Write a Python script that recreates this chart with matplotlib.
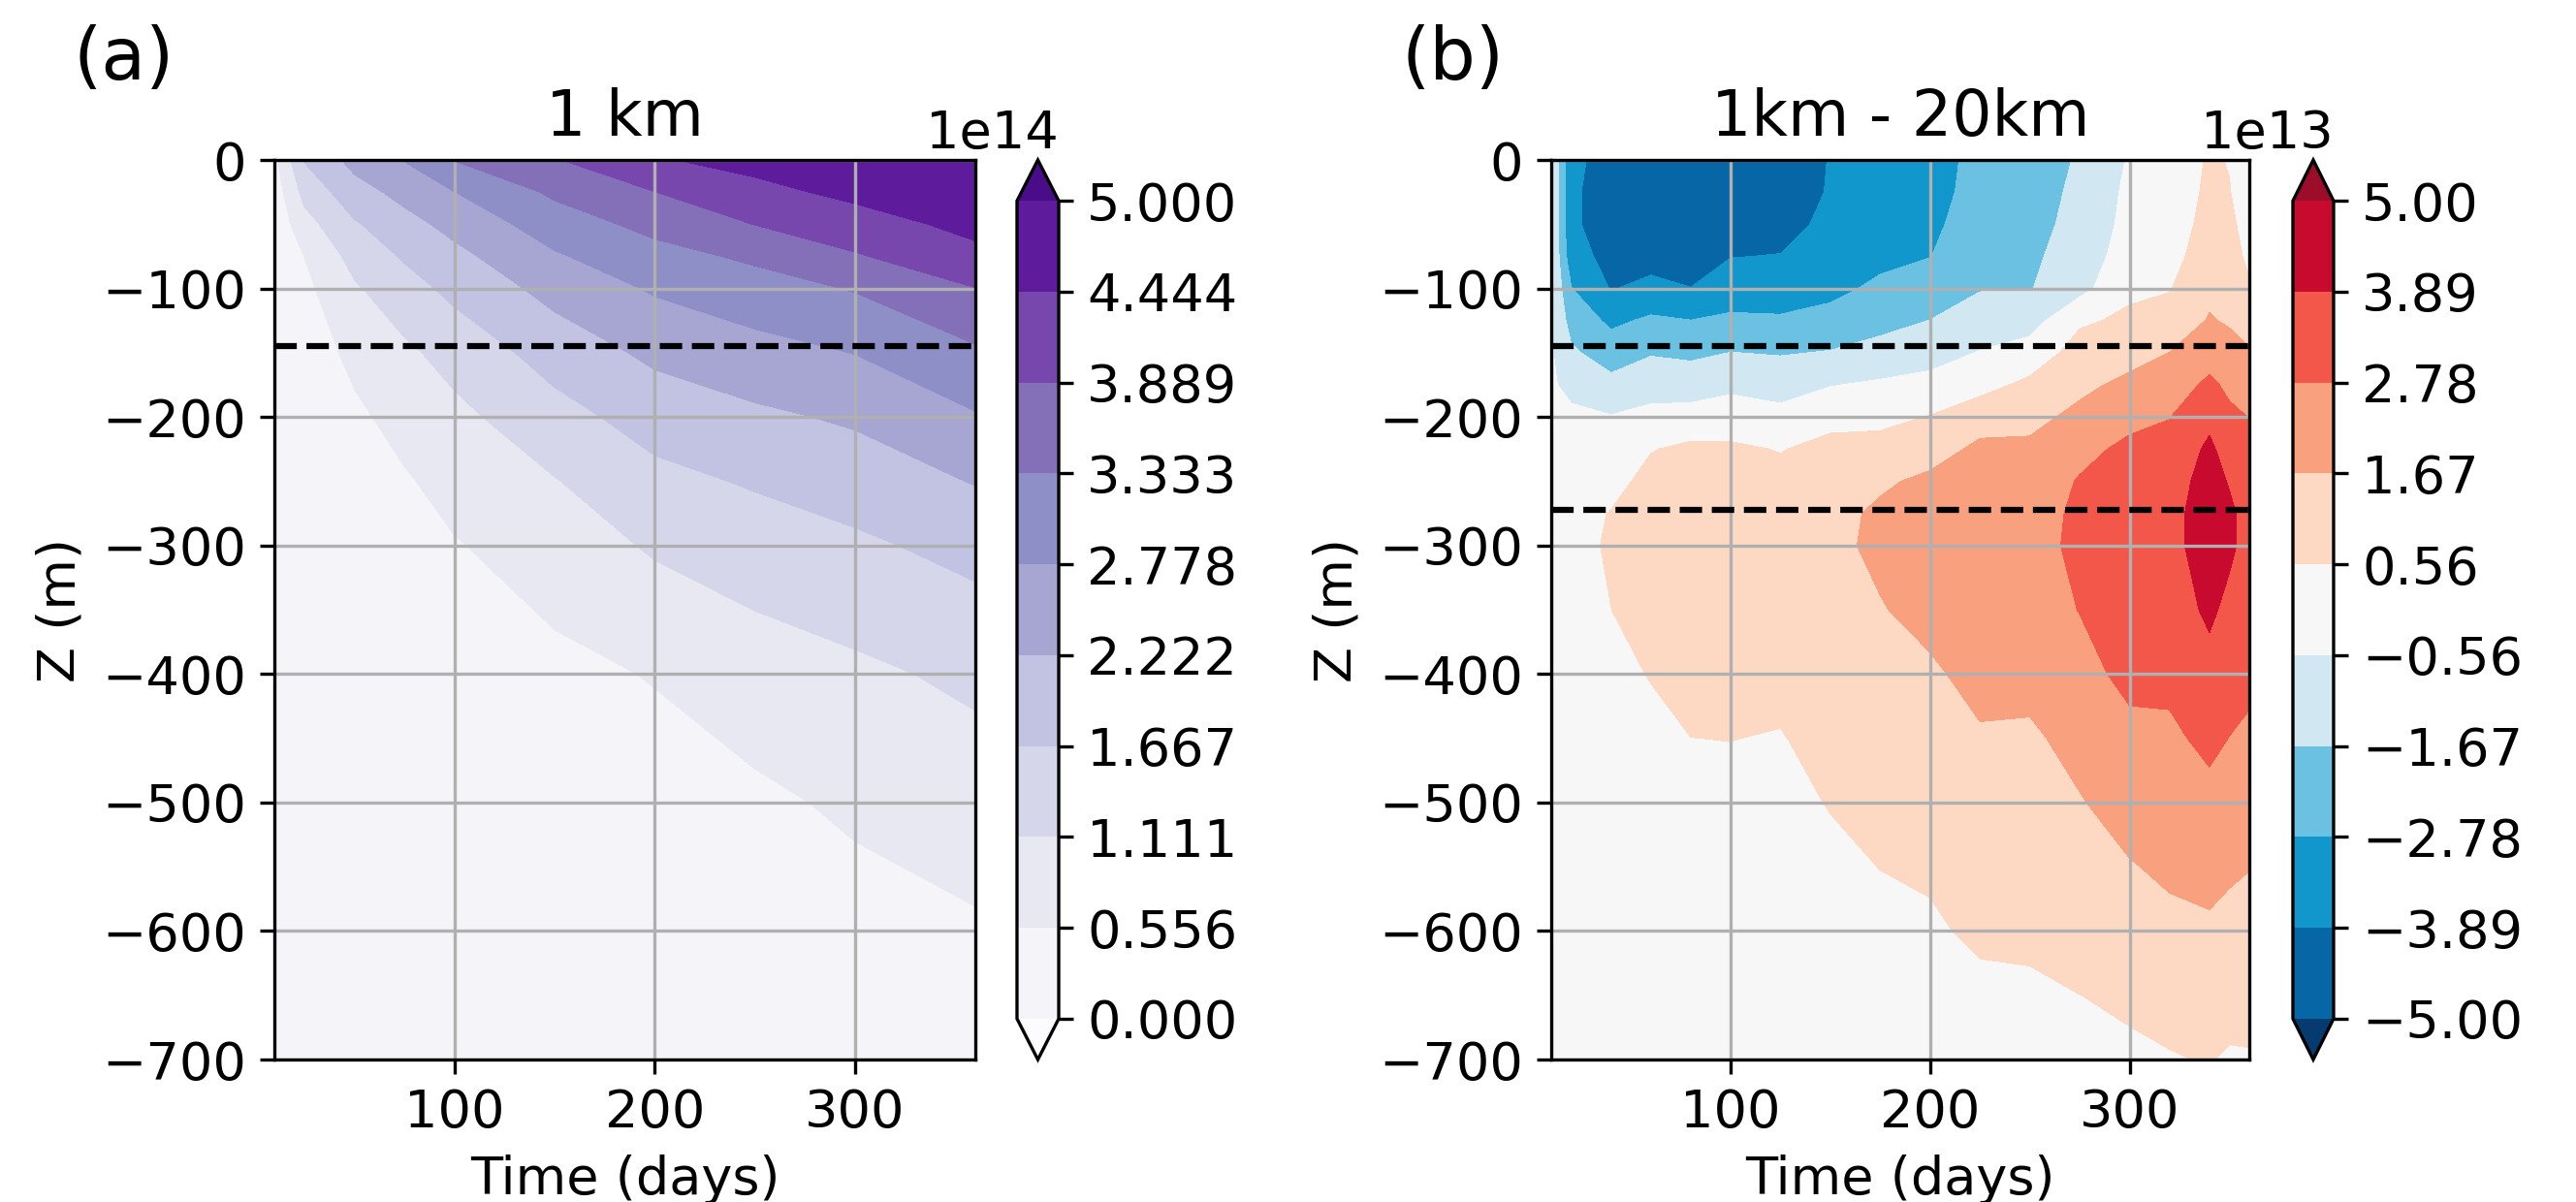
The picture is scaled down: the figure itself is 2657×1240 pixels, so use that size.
import numpy as np
import matplotlib
matplotlib.use("Agg")
import matplotlib.pyplot as plt

# ---- panel (a): 1 km run, values in units of 1e14 ----
days_a = [10, 25, 50, 75, 100, 150, 200, 250, 300, 360]
depth_a = [0, -25, -50, -75, -100, -150, -200, -250, -300, -400, -500, -600, -700]
# one depth profile per entry of days_a
profiles_a = [
    [0.40, 0.25, 0.15, 0.10, 0.08, 0.05, 0.04, 0.03, 0.03, 0.02, 0.02, 0.02, 0.02],
    [1.70, 1.285, 0.90, 0.56, 0.42, 0.25, 0.15, 0.10, 0.07, 0.04, 0.03, 0.02, 0.02],
    [2.40, 2.003, 1.605, 1.296, 1.042, 0.694, 0.45, 0.33, 0.24, 0.12, 0.06, 0.03, 0.02],
    [2.80, 2.39, 2.037, 1.728, 1.445, 1.005, 0.74, 0.50, 0.40, 0.22, 0.11, 0.05, 0.02],
    [3.35, 2.77, 2.392, 2.075, 1.813, 1.310, 0.972, 0.74, 0.52, 0.30, 0.16, 0.08, 0.03],
    [3.85, 3.43, 3.062, 2.716, 2.407, 1.898, 1.468, 1.084, 0.814, 0.42, 0.25, 0.13, 0.06],
    [4.40, 3.88, 3.492, 3.148, 2.84, 2.339, 1.898, 1.513, 1.178, 0.585, 0.32, 0.17, 0.08],
    [4.60, 4.309, 3.90, 3.426, 3.111, 2.583, 2.119, 1.723, 1.379, 0.852, 0.45, 0.24, 0.12],
    [4.80, 4.56, 4.238, 3.833, 3.37, 2.79, 2.299, 1.92, 1.569, 1.003, 0.645, 0.35, 0.18],
    [4.95, 4.764, 4.578, 4.318, 3.876, 3.249, 2.73, 2.251, 1.839, 1.223, 0.83, 0.49, 0.30],
]

# ---- panel (b): 1km - 20km difference, values in units of 1e13 ----
days_b = [10, 20, 40, 60, 80, 100, 125, 150, 175, 200, 225, 250, 275, 300, 320, 340, 350, 360]
depth_b = [0, -25, -50, -75, -100, -125, -150, -175, -200, -225, -250, -275, -300,
           -350, -400, -450, -500, -550, -600, -650, -700]
profiles_b = [
    [-0.5, -0.5, -0.5, -0.5, -0.5, -0.5, -0.45, -0.4, -0.2, 0.0, 0.1, 0.15, 0.2, 0.2, 0.15, 0.1, 0.1, 0.05, 0.05, 0.0, 0.0],
    [-3.7, -3.75, -3.75, -3.5, -2.75, -2.1, -1.5, -0.9, -0.3, 0.0, 0.1, 0.2, 0.3, 0.3, 0.2, 0.15, 0.1, 0.05, 0.05, 0.0, 0.0],
    [-4.2, -4.3, -4.3, -4.2, -3.95, -3.0, -2.2, -1.35, -0.5, -0.2, 0.2, 0.6, 0.65, 0.55, 0.3, 0.2, 0.1, 0.05, 0.0, 0.0, 0.0],
    [-4.5, -4.6, -4.6, -4.3, -3.6, -2.6, -1.75, -1.0, -0.25, 0.5, 0.9, 1.0, 1.0, 0.9, 0.6, 0.3, 0.15, 0.1, 0.05, 0.0, 0.0],
    [-4.5, -4.7, -4.7, -4.4, -3.87, -2.76, -1.9, -1.0, -0.2, 0.8, 1.1, 1.2, 1.2, 1.1, 0.9, 0.55, 0.3, 0.15, 0.1, 0.05, 0.0],
    [-4.6, -4.7, -4.5, -3.92, -3.3, -2.6, -1.65, -0.75, -0.1, 0.75, 1.0, 1.1, 1.15, 1.1, 0.9, 0.57, 0.3, 0.15, 0.1, 0.05, 0.0],
    [-4.4, -4.5, -4.3, -3.85, -3.3, -2.65, -1.75, -0.9, -0.3, 0.5, 0.9, 1.05, 1.1, 1.05, 0.85, 0.5, 0.3, 0.15, 0.1, 0.05, 0.0],
    [-3.85, -3.8, -3.6, -3.3, -3.0, -2.5, -1.6, -0.6, 0.2, 0.9, 1.2, 1.35, 1.4, 1.35, 1.2, 0.9, 0.6, 0.35, 0.2, 0.1, 0.05],
    [-3.5, -3.5, -3.3, -3.0, -2.6, -2.0, -1.3, -0.4, 0.3, 0.9, 1.5, 1.85, 1.9, 1.6, 1.4, 1.2, 0.95, 0.57, 0.3, 0.15, 0.1],
    [-3.3, -3.2, -3.0, -2.8, -2.3, -1.65, -1.0, -0.2, 0.6, 1.2, 1.9, 2.2, 2.3, 2.0, 1.5, 1.3, 1.0, 0.7, 0.4, 0.2, 0.1],
    [-2.4, -2.35, -2.25, -2.05, -1.72, -1.2, -0.5, 0.2, 1.2, 1.9, 2.2, 2.3, 2.4, 2.3, 2.0, 1.55, 1.2, 1.0, 0.75, 0.3, 0.15],
    [-2.0, -2.0, -1.95, -1.85, -1.72, -1.0, -0.1, 0.8, 1.4, 1.85, 2.2, 2.4, 2.5, 2.4, 2.0, 1.5, 1.3, 1.1, 0.8, 0.35, 0.15],
    [-1.6, -1.5, -1.4, -1.2, -0.9, 0.4, 1.0, 1.45, 1.9, 2.5, 2.85, 2.95, 2.95, 2.8, 2.5, 2.0, 1.6, 1.3, 1.0, 0.55, 0.25],
    [-0.45, -0.3, -0.2, 0.0, 0.35, 0.75, 1.3, 1.9, 2.5, 3.0, 3.3, 3.45, 3.5, 3.3, 3.0, 2.55, 2.1, 1.6, 1.1, 0.7, 0.4],
    [-0.3, -0.2, -0.05, 0.2, 0.5, 0.95, 1.68, 2.2, 2.75, 3.1, 3.3, 3.45, 3.45, 3.3, 3.0, 2.6, 2.3, 1.85, 1.4, 0.85, 0.5],
    [0.7, 0.8, 0.95, 1.1, 1.4, 1.75, 2.3, 3.0, 3.6, 4.1, 4.4, 4.6, 4.6, 4.1, 3.5, 3.0, 2.5, 2.0, 1.5, 1.0, 0.6],
    [0.5, 0.6, 0.8, 1.05, 1.3, 1.55, 2.05, 2.55, 3.0, 3.4, 3.8, 4.1, 4.1, 3.6, 3.2, 2.76, 2.3, 1.85, 1.3, 0.9, 0.45],
    [-0.2, -0.1, 0.1, 0.3, 0.7, 1.2, 1.75, 2.3, 2.75, 3.1, 3.3, 3.45, 3.5, 3.3, 3.0, 2.6, 2.2, 1.7, 1.2, 0.8, 0.5],
]

# reference depths drawn as dashed lines (m)
lines_a = [-145]
lines_b = [-145, -272]

# fill colours: below range, the nine bands, above range
purples = ['#fcfbfd', '#f5f4f9', '#e8e8f2', '#d6d6eb', '#c2c2e2', '#a7a6d2',
           '#8e8fc6', '#8470b8', '#7747ad', '#5e1c9c', '#4a0d8a']
redblue = ['#063b70', '#0766a6', '#1197cb', '#6ac1e2', '#d1e8f2', '#f7f7f7',
           '#fdd9c4', '#f9a07f', '#f3574a', '#c70a2e', '#9b0d28']

plt.rcParams['font.size'] = 13

fig = plt.figure(figsize=(2657 / 300, 1240 / 300), dpi=300)

ax_a = fig.add_axes([0.1065, 0.1185, 0.2721, 0.7484])
cax_a = fig.add_axes([0.3948, 0.1185, 0.0162, 0.7484])
ax_b = fig.add_axes([0.6022, 0.1185, 0.2710, 0.7484])
cax_b = fig.add_axes([0.8901, 0.1185, 0.0158, 0.7484])

panels = [
    (ax_a, cax_a, days_a, depth_a, profiles_a, 1e14, 0, purples, lines_a, '1 km'),
    (ax_b, cax_b, days_b, depth_b, profiles_b, 1e13, -5, redblue, lines_b, '1km - 20km'),
]

for ax, cax, days, depth, profiles, unit, vmin, colors, lines, title in panels:
    field = np.array(profiles).T * unit
    levels = np.linspace(vmin * unit, 5 * unit, 10)
    cf = ax.contourf(days, depth, field, levels=levels, colors=colors, extend='both')
    for z in lines:
        ax.axhline(z, color='k', linestyle='--', linewidth=1.5)
    ax.set_xlim(10, 360)
    ax.set_ylim(-700, 0)
    ax.set_xticks([100, 200, 300])
    ax.set_yticks(np.arange(-700, 1, 100))
    ax.grid(True)
    ax.set_xlabel('Time (days)')
    ax.set_ylabel('Z (m)')
    ax.set_title(title, fontsize=15.6)
    cb = fig.colorbar(cf, cax=cax)
    cb.set_ticks(levels)

fig.text(0.048, 0.95, '(a)', fontsize=18, ha='center', va='center')
fig.text(0.564, 0.95, '(b)', fontsize=18, ha='center', va='center')

fig.savefig('out.png', dpi=300)
